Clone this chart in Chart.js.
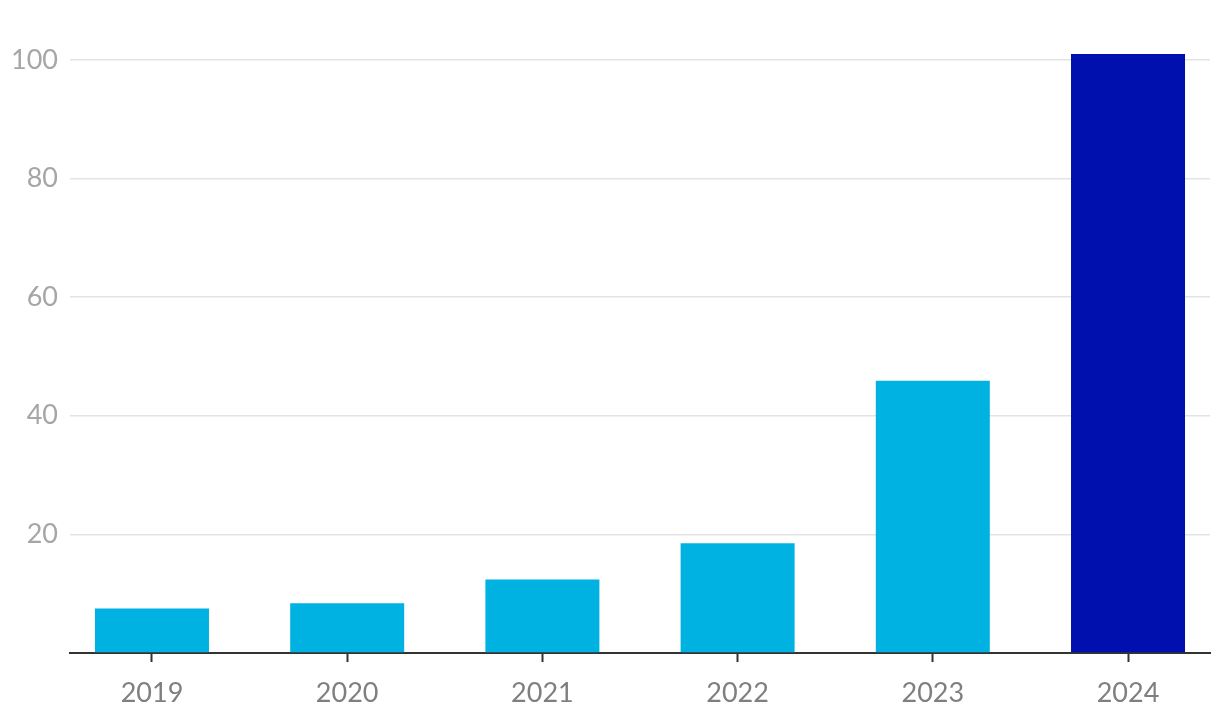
<!DOCTYPE html>
<html>
<head>
<meta charset="utf-8">
<script src="https://cdn.jsdelivr.net/npm/chart.js@4.4.1/dist/chart.umd.min.js"></script>
<style>
  html, body { margin: 0; padding: 0; background: #ffffff; }
  #wrap { width: 1220px; height: 726px; position: relative; }
</style>
</head>
<body>
<div id="wrap"><canvas id="c" width="1220" height="726"></canvas></div>
<script>
const categories = ["2019", "2020", "2021", "2022", "2023", "2024"];
const values = [7.5, 8.4, 12.4, 18.5, 45.9, 101];
const barColors = ["#00b2e2", "#00b2e2", "#00b2e2", "#00b2e2", "#00b2e2", "#0010ae"];
const yTicks = [0, 20, 40, 60, 80, 100];

const ctx = document.getElementById('c').getContext('2d');
new Chart(ctx, {
  type: 'bar',
  data: {
    datasets: [{
      data: values.map((v, i) => ({ x: i, y: v })),
      backgroundColor: barColors,
      borderWidth: 0,
      barPercentage: 0.584,
      categoryPercentage: 1.0
    }]
  },
  options: {
    responsive: false,
    animation: false,
    layout: { padding: { top: 48, right: 10, left: 0, bottom: 0 } },
    plugins: { legend: { display: false }, tooltip: { enabled: false } },
    scales: {
      x: {
        type: 'linear',
        min: -0.42,
        max: 5.42,
        offset: false,
        afterBuildTicks: (scale) => { scale.ticks = categories.map((c, i) => ({ value: i })); },
        afterFit: (scale) => { scale.height = 73; },
        ticks: {
          callback: (v) => categories[v],
          color: '#7f7f7f',
          font: { family: 'Lato', size: 27 },
          padding: 15,
          maxRotation: 0,
          autoSkip: false
        },
        grid: {
          offset: false,
          drawOnChartArea: false,
          drawTicks: true,
          tickLength: 9,
          tickWidth: 2,
          tickColor: '#333333'
        },
        border: { display: true, color: '#333333', width: 2 }
      },
      y: {
        min: 0,
        max: 102,
        afterBuildTicks: (scale) => { scale.ticks = yTicks.map(v => ({ value: v })); },
        afterFit: (scale) => { scale.width = 70; },
        ticks: {
          callback: (v) => v === 0 ? '' : String(v),
          color: '#a6a6a6',
          font: { family: 'Lato', size: 27 },
          padding: 12
        },
        grid: {
          drawTicks: false,
          color: (c) => c.tick && c.tick.value === 0 ? 'rgba(0,0,0,0)' : '#e3e3e3',
          lineWidth: 1.5
        },
        border: { display: false }
      }
    }
  }
});
</script>
</body>
</html>
